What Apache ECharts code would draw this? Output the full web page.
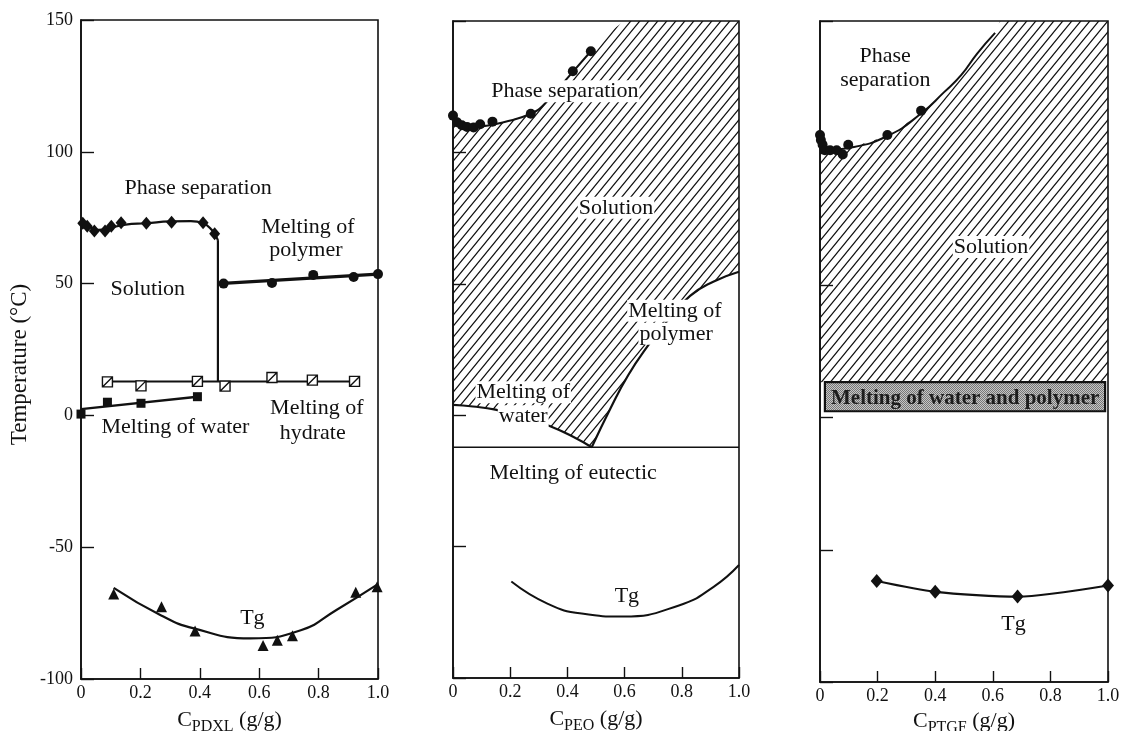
<!DOCTYPE html>
<html>
<head>
<meta charset="utf-8">
<title>Phase diagrams of polymer–water systems</title>
<script src="https://cdn.jsdelivr.net/npm/echarts@6/dist/echarts.min.js"></script>
<style>
  html, body { margin: 0; padding: 0; background: #fff; }
  #chart { width: 1123px; height: 731px; }
</style>
</head>
<body>
<div id="chart"></div>
<script>
// ---------- axis ticks ----------
const tempTicks = [-100, -50, 0, 50, 100, 150];
const concTicks = [0, 0.2, 0.4, 0.6, 0.8, 1.0];
const concTickLabels = ['0', '0.2', '0.4', '0.6', '0.8', '1.0'];

// ---------- PDXL / water ----------
const pdxlPhaseSepPts = [[0.006, 72.9], [0.021, 71.8], [0.045, 70.0], [0.081, 70.0], [0.102, 71.8],
  [0.135, 73.1], [0.22, 72.9], [0.305, 73.3], [0.411, 73.1], [0.45, 68.9]];
const pdxlPhaseSepCurve = [[0, 73.2], [0.03, 71.4], [0.06, 70.4], [0.1, 71.2], [0.15, 72.4], [0.22, 72.9],
  [0.3, 73.6], [0.37, 73.7], [0.41, 73.0], [0.44, 70.4], [0.461, 66.5]];
const pdxlStep = [[0.461, 66.5], [0.461, 12.9]];
const pdxlPolymerPts = [[0.48, 50.0], [0.643, 50.2], [0.782, 53.3], [0.918, 52.5], [1.0, 53.6]];
const pdxlPolymerLine = [[0.464, 50.0], [1.0, 53.6]];
const pdxlHydratePts = [[0.089, 12.7], [0.202, 11.2], [0.392, 12.9], [0.485, 11.1], [0.643, 14.4],
  [0.779, 13.4], [0.921, 12.9]];
const pdxlHydrateLine = [[0.089, 12.9], [0.921, 12.9]];
const pdxlWaterPts = [[0, 0.5], [0.089, 5.0], [0.202, 4.6], [0.392, 7.1]];
const pdxlWaterLine = [[0, 2.4], [0.392, 7.1]];
const pdxlTgPts = [[0.11, -67.8], [0.271, -72.6], [0.384, -81.8], [0.613, -87.3], [0.661, -85.3],
  [0.712, -83.6], [0.925, -67.1], [0.997, -65.0]];
const pdxlTgCurve = [[0.11, -65.4], [0.27, -75.9], [0.38, -80.8], [0.57, -84.6], [0.74, -81.5],
  [0.86, -73.8], [1.0, -64.0]];

// ---------- PEO / water ----------
const peoPhaseSepPts = [[0, 114], [0.014, 111.5], [0.031, 110.3], [0.049, 109.7], [0.072, 109.5],
  [0.095, 110.7], [0.138, 111.7], [0.272, 114.7], [0.419, 130.9], [0.482, 138.5]];
const peoPhaseCurve = [[0, 113.5], [0.02, 110.8], [0.05, 109.6], [0.1, 109.9], [0.18, 111.6],
  [0.272, 114.7], [0.32, 118.4], [0.39, 127], [0.482, 138.5]];
const peoSolutionTop = [[0.53, 144.5], [0.6, 150]];
const peoWaterLine = [[0, 3.9], [0.07, 3.3], [0.148, 2.1], [0.25, -0.8], [0.34, -4.2], [0.42, -8.2], [0.485, -12.2]];
const peoPolymerLine = [[0.485, -12.2], [0.55, 2.5], [0.613, 15.3], [0.678, 25.9], [0.75, 36],
  [0.829, 45.4], [0.91, 50.8], [1.0, 54.6]];
const peoEutectic = [[0, -12.2], [1, -12.2]];
const peoTgCurve = [[0.204, -63.3], [0.33, -71.7], [0.45, -75.5], [0.596, -76.6], [0.79, -72.4],
  [0.91, -65.4], [1.0, -57.0]];

// ---------- PTGF / water ----------
const ptgfPhaseSepPts = [[0, 106.9], [0.003, 105.0], [0.009, 103.2], [0.017, 101.1], [0.035, 101.1],
  [0.058, 101.1], [0.079, 99.5], [0.098, 103.2], [0.234, 106.9], [0.351, 116.1]];
const ptgfPhaseCurve = [[0, 102], [0.05, 101.5], [0.1, 102], [0.234, 106.5], [0.351, 115], [0.43, 123],
  [0.49, 129.5], [0.545, 137.6], [0.608, 145.5]];
const ptgfSolutionTop = [[0.625, 150]];
const ptgfBandConc = [0.017, 0.99];
const ptgfBandTemp = [2.4, 13.4];
const ptgfTgPts = [[0.197, -61.8], [0.4, -65.9], [0.686, -67.7], [1.0, -63.5]];

// ---------- region labels: [text, concentration, temperature] ----------
const pdxlNotes = [
  ['Phase separation', 0.394, 86.1],
  ['Melting of', 0.764, 71.5], ['polymer', 0.757, 62.6],
  ['Solution', 0.225, 47.7],
  ['Melting of water', 0.318, -4.5],
  ['Melting of', 0.794, 2.6], ['hydrate', 0.78, -6.8],
  ['Tg', 0.577, -76.9]
];
const peoNotes = [
  ['Phase separation', 0.391, 123.3],
  ['Solution', 0.570, 78.9],
  ['Melting of', 0.776, 39.7], ['polymer', 0.780, 31.0],
  ['Melting of', 0.2455, 8.7], ['water', 0.2455, -0.4],
  ['Melting of eutectic', 0.42, -22.0],
  ['Tg', 0.608, -68.9]
];
const ptgfNotes = [
  ['Phase', 0.226, 136.7], ['separation', 0.227, 127.7],
  ['Solution', 0.594, 64.5],
  ['Tg', 0.672, -78.1]
];
const ptgfBandNote = ['Melting of water and polymer', 0.504, 7.3];

// ---------- styling helpers ----------
const FONT = '"Liberation Serif", "Times New Roman", serif';
const INK = '#111';

function hatchCanvas() {
  const w = 9, h = 11;
  const c = document.createElement('canvas');
  c.width = w; c.height = h;
  const g = c.getContext('2d');
  g.strokeStyle = INK;
  g.lineWidth = 1.2;
  g.beginPath();
  for (const dx of [-w, 0, w]) {
    g.moveTo(dx - w * 0.5, h * 1.5);
    g.lineTo(dx + w * 1.5, -h * 0.5);
  }
  g.stroke();
  return c;
}
function halftoneCanvas() {
  const c = document.createElement('canvas');
  c.width = 2; c.height = 2;
  const g = c.getContext('2d');
  g.fillStyle = '#c6c6c6'; g.fillRect(0, 0, 2, 2);
  g.fillStyle = '#777'; g.fillRect(0, 0, 1, 1); g.fillRect(1, 1, 1, 1);
  return c;
}
const hatch = { image: hatchCanvas(), repeat: 'repeat' };
const halftone = { image: halftoneCanvas(), repeat: 'repeat' };

const grids = [
  { left: 81, top: 20, width: 297, height: 659 },
  { left: 453, top: 21, width: 286, height: 657 },
  { left: 820, top: 21, width: 288, height: 661 }
];
const subscripts = ['PDXL', 'PEO', 'PTGF'];
const xNameGaps = [28, 28, 24];

function lineSeries(idx, data, width, smooth) {
  return {
    type: 'line', xAxisIndex: idx, yAxisIndex: idx, data: data,
    showSymbol: false, smooth: smooth, silent: true, z: 3,
    lineStyle: { color: INK, width: width }
  };
}
function markerSeries(idx, data, symbol, size, fill, border) {
  return {
    type: 'scatter', xAxisIndex: idx, yAxisIndex: idx, data: data,
    symbol: symbol, symbolSize: size, silent: true, z: 4,
    itemStyle: { color: fill, borderColor: INK, borderWidth: border || 0, opacity: 1 }
  };
}
function regionSeries(idx, points, fill) {
  return {
    type: 'custom', xAxisIndex: idx, yAxisIndex: idx, data: [[0, 0]], silent: true, z: 1,
    renderItem: function (params, api) {
      return {
        type: 'polygon',
        shape: { points: points.map(function (p) { return api.coord(p); }) },
        style: { fill: fill, stroke: null }
      };
    }
  };
}
function noteSeries(idx, notes, opts) {
  opts = opts || {};
  return {
    type: 'custom', xAxisIndex: idx, yAxisIndex: idx, silent: true, z: 10,
    data: notes.map(function (n) { return [n[1], n[2]]; }),
    renderItem: function (params, api) {
      const p = api.coord([api.value(0), api.value(1)]);
      return {
        type: 'text', x: p[0], y: p[1], z2: 10,
        style: {
          text: notes[params.dataIndex][0],
          font: (opts.weight || 'normal') + ' ' + (opts.size || 22) + 'px ' + FONT,
          fill: opts.color || INK,
          align: 'center', verticalAlign: 'middle',
          backgroundColor: opts.bg === undefined ? '#fff' : opts.bg,
          padding: [0, 1]
        }
      };
    }
  };
}

// hatched "Solution" regions
const peoRegion = [].concat(
  [[0, peoWaterLine[0][1]]],
  peoPhaseCurve,
  peoSolutionTop,
  [[1, tempTicks[tempTicks.length - 1]]],
  peoPolymerLine.slice().reverse(),
  peoWaterLine.slice().reverse()
);
const ptgfRegion = [].concat(
  [[0, ptgfBandTemp[1]]],
  ptgfPhaseCurve,
  ptgfSolutionTop,
  [[1, tempTicks[tempTicks.length - 1]], [1, ptgfBandTemp[1]]]
);

const chart = echarts.init(document.getElementById('chart'));

const option = {
  animation: false,
  backgroundColor: '#fff',
  grid: grids.map(function (g) {
    return Object.assign({ show: true, borderColor: INK, borderWidth: 1.6, backgroundColor: 'transparent',
      containLabel: false, outerBoundsMode: 'none' }, g);
  }),
  xAxis: grids.map(function (g, i) {
    return {
      gridIndex: i, type: 'value',
      min: concTicks[0], max: concTicks[concTicks.length - 1], interval: 0.2,
      name: '{c|C}{s|' + subscripts[i] + '}{c| (g/g)}',
      nameLocation: 'middle', nameGap: xNameGaps[i],
      nameTextStyle: {
        rich: {
          c: { fontFamily: FONT, fontSize: 22, color: INK, lineHeight: 28, verticalAlign: 'bottom', padding: [0, 0, 4, 0] },
          s: { fontFamily: FONT, fontSize: 16, color: INK, lineHeight: 28, verticalAlign: 'bottom' }
        }
      },
      axisLine: { onZero: false, lineStyle: { color: INK, width: 1.6 } },
      axisTick: { inside: true, length: 11, lineStyle: { color: INK, width: 1.4 } },
      axisLabel: {
        color: INK, fontFamily: FONT, fontSize: 18, margin: 5,
        formatter: function (v) { return concTickLabels[Math.round(v / 0.2)]; }
      },
      splitLine: { show: false }
    };
  }),
  yAxis: grids.map(function (g, i) {
    return {
      gridIndex: i, type: 'value',
      min: tempTicks[0], max: tempTicks[tempTicks.length - 1], interval: 50,
      name: i === 0 ? 'Temperature (°C)' : '',
      nameLocation: 'middle', nameGap: 50, nameRotate: 90,
      nameTextStyle: { fontFamily: FONT, fontSize: 23, color: INK, padding: [0, 30, 0, 0] },
      axisLine: { onZero: false, lineStyle: { color: INK, width: 1.6 } },
      axisTick: { inside: true, length: 13, lineStyle: { color: INK, width: 1.4 } },
      axisLabel: { show: i === 0, color: INK, fontFamily: FONT, fontSize: 18, margin: 8 },
      splitLine: { show: false }
    };
  }),
  series: [
    // ----- PDXL -----
    lineSeries(0, pdxlPhaseSepCurve, 2.2, true),
    lineSeries(0, pdxlStep, 2.2, false),
    lineSeries(0, pdxlPolymerLine, 3.2, false),
    lineSeries(0, pdxlHydrateLine, 2, false),
    lineSeries(0, pdxlWaterLine, 2.4, false),
    lineSeries(0, pdxlTgCurve, 2.2, true),
    markerSeries(0, pdxlPhaseSepPts, 'diamond', [11, 13], INK),
    markerSeries(0, pdxlPolymerPts, 'circle', 10, INK),
    markerSeries(0, pdxlHydratePts, 'path://M0,0H10V10H0Z M0,10L10,0', 10, '#fff', 1.4),
    markerSeries(0, pdxlWaterPts, 'rect', 9, INK),
    markerSeries(0, pdxlTgPts, 'triangle', 11, INK),
    noteSeries(0, pdxlNotes, { bg: null }),

    // ----- PEO -----
    regionSeries(1, peoRegion, hatch),
    lineSeries(1, peoPhaseCurve, 2, true),
    lineSeries(1, peoWaterLine, 2.2, true),
    lineSeries(1, peoPolymerLine, 2.2, true),
    lineSeries(1, peoEutectic, 1.6, false),
    lineSeries(1, peoTgCurve, 2, true),
    markerSeries(1, peoPhaseSepPts, 'circle', 10, INK),
    noteSeries(1, peoNotes),

    // ----- PTGF -----
    regionSeries(2, ptgfRegion, hatch),
    {
      type: 'custom', xAxisIndex: 2, yAxisIndex: 2, data: [[0, 0]], silent: true, z: 2,
      renderItem: function (params, api) {
        const a = api.coord([ptgfBandConc[0], ptgfBandTemp[1]]);
        const b = api.coord([ptgfBandConc[1], ptgfBandTemp[0]]);
        return {
          type: 'rect',
          shape: { x: a[0], y: a[1], width: b[0] - a[0], height: b[1] - a[1] },
          style: { fill: halftone, stroke: INK, lineWidth: 2.2 }
        };
      }
    },
    lineSeries(2, ptgfPhaseCurve, 2, true),
    lineSeries(2, ptgfTgPts, 2.2, 0.25),
    markerSeries(2, ptgfPhaseSepPts, 'circle', 10, INK),
    markerSeries(2, ptgfTgPts, 'diamond', [12, 14], INK),
    noteSeries(2, ptgfNotes),
    noteSeries(2, [ptgfBandNote], { bg: null, weight: 'bold', size: 21, color: '#1c1c1c' })
  ]
};

chart.setOption(option);
</script>
</body>
</html>
